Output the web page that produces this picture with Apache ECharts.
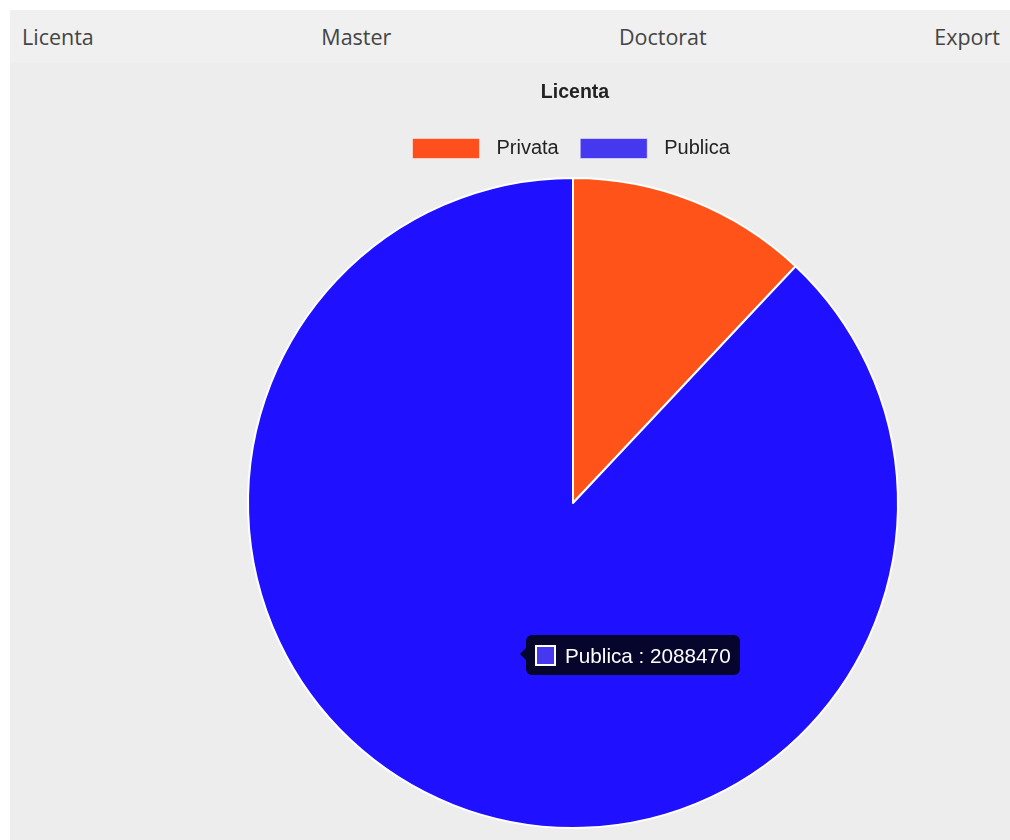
<!DOCTYPE html>
<html>
<head>
<meta charset="utf-8">
<script src="https://cdn.jsdelivr.net/npm/echarts@6/dist/echarts.min.js"></script>
<style>
  html, body { margin: 0; padding: 0; background: #ffffff; }
  #wrap { position: absolute; left: 10px; top: 10px; width: 1000px; height: 830px; background: #ededed; }
  #nav { position: absolute; left: 0; top: 0; width: 1000px; height: 53px; background: #f0f0f0;
         display: flex; justify-content: space-between; align-items: center; box-sizing: border-box;
         padding: 0 10px 1px 12px; font-family: "Open Sans", sans-serif; font-size: 21.5px; color: #444; }
  #chart { position: absolute; left: 0; top: 53px; width: 1000px; height: 777px; }
</style>
</head>
<body>
<div id="wrap">
  <div id="nav"><span>Licenta</span><span>Master</span><span>Doctorat</span><span>Export</span></div>
  <div id="chart"></div>
</div>
<script>
const titleText = 'Licenta';
const navItems = ['Licenta', 'Master', 'Doctorat', 'Export'];
const categories = ['Privata', 'Publica'];
const values = [285000, 2088470];
const sliceColors = ['#ff5319', '#1f10ff'];
const legendColors = ['#ff4f1c', '#4638ee'];
const tooltipIndex = 1;

const chart = echarts.init(document.getElementById('chart'));
const CX = 563, CY = 440, R = 325;

const option = {
  animation: false,
  title: {
    text: titleText, left: 560, textAlign: 'center', top: 15,
    textStyle: { fontFamily: 'Liberation Sans, Arial, sans-serif', fontSize: 19.5, fontWeight: 'bold', color: '#222' }
  },
  legend: {
    top: 70, left: 397, itemWidth: 67, itemHeight: 20, itemGap: 21,
    icon: 'rect',
    data: categories.map((c, i) => ({ name: c, itemStyle: { color: legendColors[i], borderColor: 'rgba(255,255,255,0.5)', borderWidth: 1 } })),
    textStyle: { fontFamily: 'Liberation Sans, Arial, sans-serif', fontSize: 20, color: '#222', padding: [0, 0, 0, 12] },
    selectedMode: false
  },
  tooltip: {
    trigger: 'item', triggerOn: 'none', alwaysShowContent: true, transitionDuration: 0,
    backgroundColor: '#06052c', borderWidth: 0, borderRadius: 6, padding: [7, 9],
    extraCssText: 'box-shadow:none;',
    textStyle: { color: '#fff', fontFamily: 'Liberation Sans, Arial, sans-serif', fontSize: 20.7, lineHeight: 24 },
    formatter: function (p) {
      return '<div style="position:absolute;left:-6px;top:13px;width:0;height:0;border-top:6px solid transparent;border-bottom:6px solid transparent;border-right:6px solid #06052c"></div>' +
        '<span style="display:inline-block;vertical-align:middle;width:17px;height:17px;border:2px solid #fff;background:' + legendColors[p.dataIndex] + ';margin-right:9px"></span>' +
        '<span style="vertical-align:middle">' + p.name + ' : ' + p.value + '</span>';
    },
    position: function (point, params) {
      const total = values.reduce((a, b) => a + b, 0);
      let start = 0;
      for (let i = 0; i < params.dataIndex; i++) start += values[i];
      const mid = (start + values[params.dataIndex] / 2) / total * 2 * Math.PI;
      const px = CX + (R / 2) * Math.sin(mid);
      const py = CY - (R / 2) * Math.cos(mid);
      return [px + 13, py - 19];
    }
  },
  series: [{
    type: 'pie',
    center: [CX, CY],
    radius: [0, R],
    startAngle: 90,
    clockwise: true,
    label: { show: false },
    labelLine: { show: false },
    emphasis: { disabled: true },
    itemStyle: { borderColor: '#ffffff', borderWidth: 2 },
    data: categories.map((c, i) => ({ name: c, value: values[i], itemStyle: { color: sliceColors[i] } }))
  }]
};
chart.setOption(option);
chart.dispatchAction({ type: 'showTip', seriesIndex: 0, dataIndex: tooltipIndex });
</script>
</body>
</html>
